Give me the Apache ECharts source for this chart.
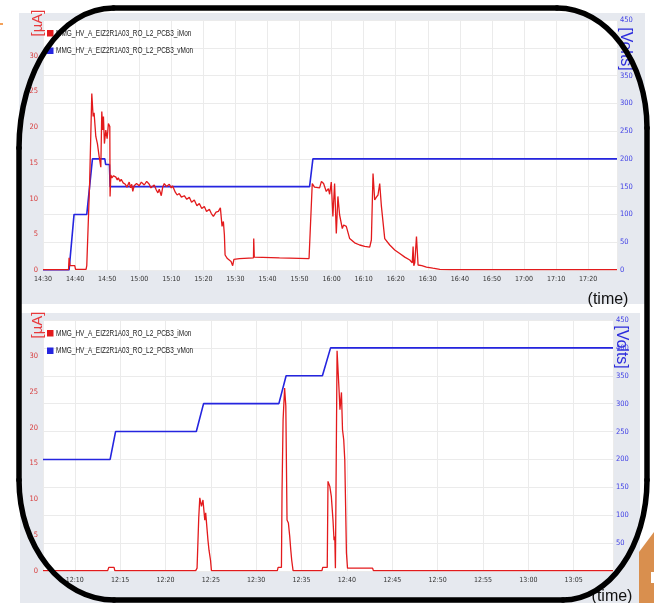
<!DOCTYPE html>
<html>
<head>
<meta charset="utf-8">
<script src="https://cdn.jsdelivr.net/npm/echarts@6/dist/echarts.min.js"></script>
<style>
html,body{margin:0;padding:0;background:#fff;}
#c{width:654px;height:603px;}
</style>
</head>
<body>
<div id="c"></div>
<script>
// ---------- DATA ----------
const seriesNames = ['MMG_HV_A_EIZ2R1A03_RO_L2_PCB3_iMon', 'MMG_HV_A_EIZ2R1A03_RO_L2_PCB3_vMon'];

// Top chart (14:30 - 17:29)
const topRange = ['14:30:00', '17:29:00'];
const topTimeI = ['14:30:00','14:37:58','14:38:08','14:38:26','14:39:54','14:40:09','14:43:26','14:43:39','14:44:13','14:44:32','14:45:13','14:45:38','14:45:56','14:46:28','14:46:58','14:47:30','14:48:02','14:48:20','14:48:39','14:48:51','14:49:09','14:49:35','14:50:00','14:50:24','14:50:50','14:50:55','14:51:09',
  '14:51:30','14:52:00','14:52:43','14:53:10','14:53:30','14:54:00','14:54:23','14:55:00','14:55:40','14:56:10','14:56:53','14:57:20','14:57:40','14:58:00','14:58:26','14:59:10','15:00:00','15:00:40','15:01:34','15:02:20','15:03:08','15:03:40','15:04:41','15:05:20','15:05:50','15:06:15','15:06:53','15:07:20','15:07:49','15:08:30','15:09:23','15:10:00','15:10:24','15:11:15','15:11:50','15:12:30','15:13:10','15:14:04','15:14:50','15:15:38','15:16:20','15:17:11','15:18:00','15:18:45','15:19:30','15:20:19','15:21:00','15:21:53','15:22:30','15:23:08','15:23:58','15:24:41','15:25:19',
  '15:25:50','15:26:15','15:26:34','15:26:47','15:27:30','15:28:39','15:29:09','15:29:32','15:31:15','15:35:38','15:35:43','15:35:53','15:43:45','15:52:58',
  '15:53:58','15:54:40','15:55:13','15:56:15','15:56:50','15:57:30','15:58:20','15:59:00','15:59:23','15:59:54','16:00:24','16:00:56','16:01:28','16:01:58','16:02:30','16:03:20','16:03:45','16:04:35','16:05:38','16:07:11','16:08:45','16:10:19','16:11:53','16:12:24','16:12:55','16:13:26','16:13:58','16:14:28','16:15:00','16:15:32','16:16:34','16:18:08','16:19:41','16:21:15','16:22:49','16:24:23','16:25:09','16:25:25','16:25:38','16:25:56','16:26:28','16:26:58','16:28:08','16:29:35','16:31:34','16:33:45','16:36:53','17:29:00'];
const topCurrent = [0.05,0.05,1.7,0.6,0.6,0.1,0.1,0.6,0.6,12,24.7,21.5,22,18.7,17.7,15.9,14.4,22.2,19.6,21.5,17.7,19.6,18.4,20.5,20.1,10.3,13.3,
  12.9,13.2,13.0,12.6,12.9,12.4,12.7,12.2,12.0,11.6,12.3,11.5,12.0,11.0,11.8,12.1,11.8,12.3,11.9,12.4,12.0,11.5,11.9,11.2,10.8,11.3,10.4,11.6,12.1,11.7,12.0,11.5,11.8,10.9,10.5,10.7,10.2,10.4,9.9,10.2,9.5,9.8,9.0,9.3,8.6,8.9,8.2,8.5,7.9,7.5,8.1,8.2,8.7,
  6.1,6.8,4.9,2.1,1.6,1.2,0.6,1.5,1.6,1.7,4.4,1.8,1.7,1.6,
  12.1,11.6,11.7,11.5,12.4,12.1,11.0,11.4,10.6,12.3,7.5,12.1,5.1,10.3,7.7,5.8,6.3,6.1,4.4,3.8,3.5,3.3,3.2,4.2,13.5,9.8,10.2,10.5,12.1,8.9,4.4,3.5,2.8,2.3,1.8,1.4,1.0,3.3,0.6,1.0,4.7,0.7,0.6,0.4,0.25,0.1,0.05,0.05];
const topTimeV = ['14:30:00','14:38:08','14:39:41','14:43:39','14:45:25','14:49:17','14:49:32','14:50:43','14:50:56','15:53:08','15:54:10','17:29:00'];
const topVoltage = [0,0,100,100,200,200,190,190,150,150,200,200];

// Bottom chart (12:06:30 - 13:09:20)
const botRange = ['12:06:30', '13:09:20'];
const botTimeI = ['12:06:30','12:13:38','12:13:45','12:14:20','12:14:25','12:23:20','12:23:29','12:23:40','12:23:47','12:23:58','12:24:08','12:24:20','12:24:26','12:24:41','12:24:48','12:24:58','12:25:04','12:32:20','12:32:25','12:32:47','12:32:51','12:32:58','12:33:08','12:33:16','12:33:24','12:33:33','12:33:42','12:33:49','12:33:55','12:34:04','12:37:15','12:37:20','12:37:50','12:37:55','12:38:07','12:38:17','12:38:28','12:38:35','12:38:40','12:38:44','12:38:46','12:38:55','12:39:08','12:39:14','12:39:24','12:39:31','12:39:39','12:39:46','12:39:57','12:40:04','12:42:50','12:42:55','13:09:20'];
const botCurrent = [0.05,0.05,0.5,0.5,0.05,0.05,0.4,7.4,10.2,9.0,9.9,7.1,8.1,4.3,2.9,1.5,0.05,0.05,0.5,0.5,11.1,21.1,25.5,23.0,7.1,6.7,4.8,2.9,1.5,0.05,0.05,0.5,0.5,12.5,11.8,10.4,7.1,4.3,4.8,0.4,0.4,30.7,25.3,22.5,24.9,19.7,18.3,15.5,2.5,0.4,0.4,0.05,0.05];
const botTimeV = ['12:06:30','12:13:54','12:14:30','12:23:24','12:24:12','12:32:30','12:33:18','12:37:18','12:38:12','13:09:20'];
const botVoltage = [200,200,250,250,300,300,350,350,400,400];

// axis ticks
const currentAxis = {min: 0, max: 35, step: 5};
const voltageAxis = {min: 0, max: 450, step: 50};

// ---------- BUILD ----------
function tm(s){ const p = s.split(':').map(Number); return p[0]*60 + p[1] + (p[2]||0)/60; }
function pairs(ts, vs){ return ts.map((t,i)=>[tm(t), vs[i]]); }
function hhmm(v){ const r = Math.round(v); const h = Math.floor(r/60), m = r%60; return h + ':' + (m<10?'0':'') + m; }

const NARROW = "'DejaVu Sans Condensed','Liberation Sans Narrow',sans-serif";
const RED = '#e31a1c', BLUE = '#2525df';
const GRID_LINE = '#ebebeb';
const LEGEND_COLORS = [RED, BLUE];

function xAxisOpt(gi, range, extra, showMin){
  return Object.assign({
    type:'value', gridIndex: gi, min: tm(range[0]), max: tm(range[1]),
    axisLine:{show:false}, axisTick:{show:false},
    axisLabel:{formatter: hhmm, fontSize:7, color:'#333', margin:6, fontFamily:NARROW, showMaxLabel:false, showMinLabel:showMin},
    splitLine:{show:true, lineStyle:{color:GRID_LINE, width:1}}
  }, extra);
}
function yLeft(gi){
  return {type:'value', gridIndex:gi, position:'left', min:currentAxis.min, max:currentAxis.max, interval:currentAxis.step,
    axisLine:{show:false}, axisTick:{show:false}, splitLine:{show:false},
    axisLabel:{fontSize:7.5, color:'#d83a3a', margin:5, fontFamily:NARROW, showMaxLabel:false}};
}
function yRight(gi, hide400){
  return {type:'value', gridIndex:gi, position:'right', min:voltageAxis.min, max:voltageAxis.max, interval:voltageAxis.step,
    axisLine:{show:false}, axisTick:{show:false}, splitLine:{show:true, lineStyle:{color:GRID_LINE, width:1}},
    axisLabel:{fontSize:7.5, color:'#4040e6', margin:3, fontFamily:NARROW,
      formatter: v => (hide400 && v===400) ? '' : String(v)}};
}
function lineSeries(name, xi, yi, data, color, w){
  return {type:'line', name, xAxisIndex:xi, yAxisIndex:yi, data, showSymbol:false, symbol:'none',
    lineStyle:{color, width:w}, itemStyle:{color}, animation:false};
}
// compact legend (narrow text as in the original screenshot)
function legendGraphic(y0){
  const els = [];
  seriesNames.forEach((n, i) => {
    const cy = y0 + i*17.5;
    els.push({type:'rect', z:40, shape:{x:47, y:cy-3, width:6.5, height:6.5}, style:{fill:LEGEND_COLORS[i]}});
    els.push({type:'text', z:40, x:56, y:cy+0.3, scaleX:0.68, style:{text:n, fill:'#222', font:'9.5px "Liberation Sans", Arial, sans-serif', verticalAlign:'middle', align:'left'}});
  });
  return els;
}

// frame (rounded border)
const frameStyle = {stroke:'#000', lineWidth:5.5, fill:null, lineCap:'round'};
function ln(x1,y1,x2,y2){ return {type:'line', z:100, shape:{x1,y1,x2,y2}, style:frameStyle}; }
function bz(x1,y1,cpx1,cpy1,cpx2,cpy2,x2,y2){ return {type:'bezierCurve', z:100, shape:{x1,y1,cpx1,cpy1,cpx2,cpy2,x2,y2}, style:frameStyle}; }

const txt = (x,y,rot,text,fill,size) => ({type:'text', z:60, x, y, rotation:rot, style:{text, fill, font:size+'px "Liberation Sans", Arial, sans-serif', align:'center', verticalAlign:'middle'}});

const option = {
  backgroundColor:'#fff',
  animation:false,
  grid:[
    {left:43, right:37, top:20, height:250, show:true, backgroundColor:'#fff', borderWidth:0},
    {left:43, right:41, top:320, height:251, show:true, backgroundColor:'#fff', borderWidth:0}
  ],
  xAxis:[
    xAxisOpt(0, topRange, {interval:10}, true),
    xAxisOpt(1, botRange, {minInterval:5, maxInterval:5}, false)
  ],
  yAxis:[yLeft(0), yRight(0, true), yLeft(1), yRight(1, false)],
  series:[
    lineSeries(seriesNames[1], 0, 1, pairs(topTimeV, topVoltage), BLUE, 1.6),
    lineSeries(seriesNames[0], 0, 0, pairs(topTimeI, topCurrent), RED, 1.3),
    lineSeries(seriesNames[1], 1, 3, pairs(botTimeV, botVoltage), BLUE, 1.6),
    lineSeries(seriesNames[0], 1, 2, pairs(botTimeI, botCurrent), RED, 1.3)
  ],
  graphic:{elements:[
    {type:'rect', z:-10, shape:{x:19, y:13, width:626, height:291}, style:{fill:'#e6e9ef'}},
    {type:'rect', z:-10, shape:{x:20, y:313, width:620, height:290}, style:{fill:'#e6e9ef'}},
    {type:'rect', z:-5, shape:{x:0, y:23, width:3, height:2}, style:{fill:'#f3a15a'}},
    {type:'polygon', z:50, shape:{points:[[639,552],[654,532],[654,603],[639,603]]}, style:{fill:'#d98f4e'}},
    {type:'rect', z:51, shape:{x:651, y:572, width:3, height:11}, style:{fill:'#fff'}},
    ...legendGraphic(33),
    ...legendGraphic(333),
    txt(38, 23, Math.PI/2, '[µA]', '#e8393b', 15),
    txt(38, 325, Math.PI/2, '[µA]', '#e8393b', 15),
    txt(625, 49, -Math.PI/2, '[Volts]', '#2b2bdc', 16),
    txt(621, 347, -Math.PI/2, '[Volts]', '#2b2bdc', 16),
    txt(608, 300, 0, '(time)', '#111', 16),
    txt(612, 597, 0, '(time)', '#111', 16),
    // rounded frame
    ln(113.5,8,557,8),
    bz(557,8,606.7,8,647,61.7,647,128),
    ln(647,128,647,480),
    bz(647,480,647,546.3,609.4,600,563,600),
    ln(563,600,114,600),
    bz(114,600,61.5,600,19,546.3,19,480),
    ln(19,480,19,148),
    bz(19,148,19,70.7,61,8,113.5,8)
  ]}
};

const chart = echarts.init(document.getElementById('c'), null, {renderer:'canvas'});
chart.setOption(option);
</script>
</body>
</html>
